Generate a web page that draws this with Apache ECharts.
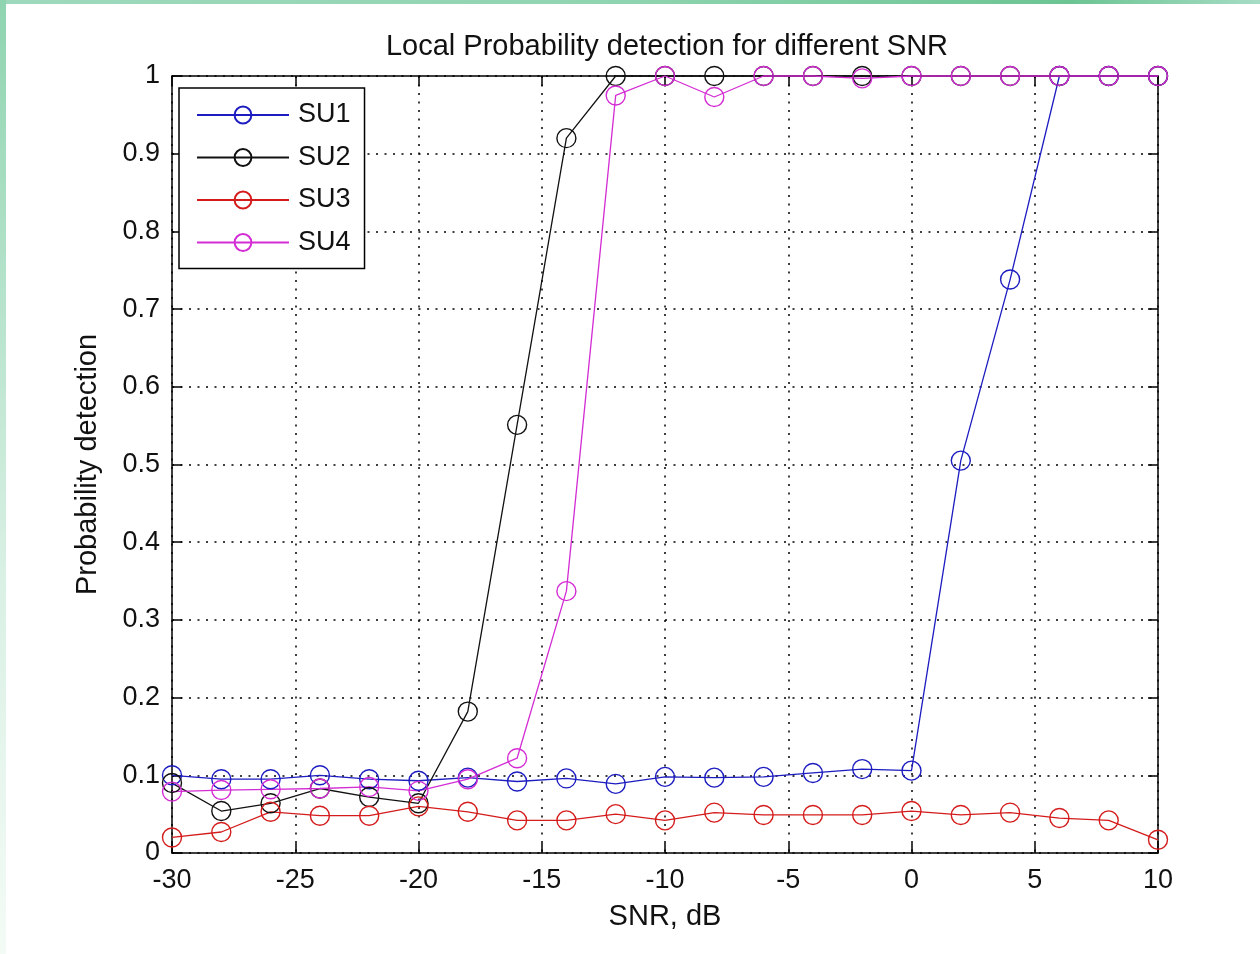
<!DOCTYPE html>
<html>
<head>
<meta charset="utf-8">
<script src="https://cdn.jsdelivr.net/npm/echarts@6/dist/echarts.min.js"></script>
<style>
html,body{margin:0;padding:0;background:#fff;}
#wrap{position:relative;width:1260px;height:954px;background:#fff;overflow:hidden;}
#topband{position:absolute;left:0;top:0;width:1260px;height:4px;background:linear-gradient(90deg,#9fd9bd,#8fd4b0 50%,#6cc493 85%,#a6dcc4);}
#leftband{position:absolute;left:0;top:0;width:6px;height:954px;background:linear-gradient(180deg,#8fd4b0,#d9f0e4 60%,#f4fbf7);}
#chart{position:absolute;left:0;top:0;width:1260px;height:954px;}
</style>
</head>
<body>
<div id="wrap">
<div id="topband"></div>
<div id="leftband"></div>
<div id="chart"></div>
</div>
<script>
const snr = [-30,-28,-26,-24,-22,-20,-18,-16,-14,-12,-10,-8,-6,-4,-2,0,2,4,6,8,10];
const su1 = [0.100,0.095,0.095,0.100,0.095,0.093,0.097,0.092,0.096,0.089,0.098,0.097,0.098,0.103,0.108,0.106,0.505,0.738,1,1,1];
const su2 = [0.090,0.054,0.064,0.083,0.072,0.064,0.182,0.551,0.920,1,1,1,1,1,1,1,1,1,1,1,1];
const su3 = [0.020,0.027,0.053,0.048,0.048,0.060,0.053,0.042,0.042,0.050,0.042,0.052,0.049,0.049,0.049,0.054,0.049,0.052,0.045,0.042,0.017];
const su4 = [0.079,0.081,0.082,0.083,0.085,0.080,0.095,0.122,0.337,0.975,1,0.973,1,1,0.997,1,1,1,1,1,1];
const seriesNames = ['SU1','SU2','SU3','SU4'];
const seriesColors = ['#1c1cc0','#111111','#d41c1c','#d42cd4'];
const xTicks = [-30,-25,-20,-15,-10,-5,0,5,10];
const yTickLabels = ['0','0.1','0.2','0.3','0.4','0.5','0.6','0.7','0.8','0.9','1'];

const FONT = 'Liberation Sans';
const chart = echarts.init(document.getElementById('chart'));
const allData = [su1,su2,su3,su4];
const series = allData.map((d,i)=>({
  name: seriesNames[i],
  type: 'line',
  xAxisIndex: 0, yAxisIndex: 0,
  data: snr.map((x,k)=>[x,d[k]]),
  symbol: 'circle',
  symbolSize: 19,
  showSymbol: true,
  clip: false,
  animation: false,
  lineStyle: {color: seriesColors[i], width: 1.3},
  itemStyle: {color: 'rgba(255,255,255,0)', borderColor: seriesColors[i], borderWidth: 1.4},
  emphasis: {disabled: true}
}));

const tickCommon = {show: true, inside: true, length: 10, lineStyle: {color: '#000', width: 1.5}};
const gridDots = {color: '#000', type: [2, 6.5], width: 1.5};
chart.setOption({
  backgroundColor: 'transparent',
  animation: false,
  title: {
    text: 'Local Probability detection for different SNR',
    left: 662, textAlign: 'center', top: 27,
    textStyle: {fontFamily: FONT, fontSize: 29, fontWeight: 'normal', color: '#111'}
  },
  grid: {left: 172, right: 102, top: 76, bottom: 101, containLabel: false},
  legend: {
    data: seriesNames,
    orient: 'vertical',
    left: 179, top: 88,
    width: 191,
    padding: [13, 14, 12, 17],
    itemWidth: 92, itemHeight: 21,
    itemGap: 14.5,
    backgroundColor: '#fff',
    borderColor: '#000', borderWidth: 1.5,
    textStyle: {fontFamily: FONT, fontSize: 27, color: '#111', lineHeight: 28, padding: [0,0,0,4]},
    selectedMode: false
  },
  xAxis: [{
    type: 'value', min: -30, max: 10, interval: 5, position: 'bottom',
    name: 'SNR, dB', nameLocation: 'middle', nameGap: 49,
    nameTextStyle: {fontFamily: FONT, fontSize: 29, color: '#111'},
    axisLine: {show: true, onZero: false, lineStyle: {color: '#000', width: 1.5}},
    axisTick: tickCommon,
    axisLabel: {fontFamily: FONT, fontSize: 27, color: '#111', margin: 14,
      formatter: v => xTicks.includes(v) ? String(v) : ''},
    splitLine: {show: true, lineStyle: gridDots}
  },{
    type: 'value', min: -30, max: 10, interval: 5, position: 'top',
    axisLine: {show: true, onZero: false, lineStyle: {color: '#000', width: 1.5}},
    axisTick: tickCommon, axisLabel: {show: false}, splitLine: {show: false}
  }],
  yAxis: [{
    type: 'value', min: 0, max: 1, interval: 0.1, position: 'left',
    name: 'Probability detection', nameLocation: 'middle', nameGap: 70,
    nameTextStyle: {fontFamily: FONT, fontSize: 29, color: '#111'},
    axisLine: {show: true, onZero: false, lineStyle: {color: '#000', width: 1.5}},
    axisTick: tickCommon,
    axisLabel: {fontFamily: FONT, fontSize: 27, color: '#111', margin: 12,
      formatter: v => yTickLabels[Math.round(v*10)]},
    splitLine: {show: true, lineStyle: gridDots}
  },{
    type: 'value', min: 0, max: 1, interval: 0.1, position: 'right',
    axisLine: {show: true, onZero: false, lineStyle: {color: '#000', width: 1.5}},
    axisTick: tickCommon, axisLabel: {show: false}, splitLine: {show: false}
  }],
  series: series
});
</script>
</body>
</html>
